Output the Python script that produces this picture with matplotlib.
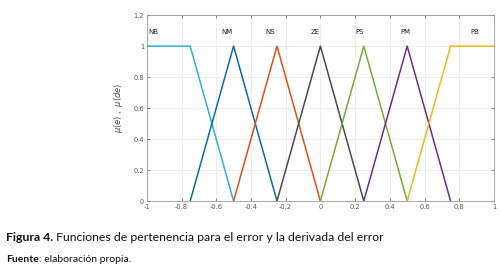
import matplotlib.pyplot as plt

# membership functions: breakpoints (x) and degrees (y)
names = ['NB', 'NM', 'NS', 'ZE', 'PS', 'PM', 'PB']
mf_x = [
    [-1.0, -0.75, -0.5],
    [-0.75, -0.5, -0.25],
    [-0.5, -0.25, 0.0],
    [-0.25, 0.0, 0.25],
    [0.0, 0.25, 0.5],
    [0.25, 0.5, 0.75],
    [0.5, 0.75, 1.0],
]
mf_y = [
    [1, 1, 0],
    [0, 1, 0],
    [0, 1, 0],
    [0, 1, 0],
    [0, 1, 0],
    [0, 1, 0],
    [0, 1, 1],
]
colors = ['#2fb0dc', '#0b6aac', '#d95319', '#4a4a4a', '#77ac30', '#6a2c91', '#f2b61a']
label_x = [-0.96, -0.54, -0.29, -0.03, 0.225, 0.49, 0.89]
label_y = 1.09

fig = plt.figure(figsize=(5.01, 2.80), dpi=100)
ax = fig.add_axes([0.293, 0.282, 0.693, 0.664])

for xs, ys, c in zip(mf_x, mf_y, colors):
    ax.plot(xs, ys, color=c, lw=1.1)

for name, lx in zip(names, label_x):
    ax.text(lx, label_y, name, fontsize=5, ha='center', va='center', color='#222222')

ax.set_xlim(-1, 1)
ax.set_ylim(0, 1.2)
ax.set_xticks([-1, -0.8, -0.6, -0.4, -0.2, 0, 0.2, 0.4, 0.6, 0.8, 1])
ax.set_xticklabels(['-1', '-0.8', '-0.6', '-0.4', '-0.2', '0', '0.2', '0.4', '0.6', '0.8', '1'])
ax.set_yticks([0, 0.2, 0.4, 0.6, 0.8, 1, 1.2])
ax.set_yticklabels(['0', '0.2', '0.4', '0.6', '0.8', '1', '1.2'])
ax.tick_params(direction='in', length=2.5, width=0.5, labelsize=4.8, colors='#555555',
               top=True, right=True, pad=2)
ax.grid(True, color='#e6e6e6', lw=0.5)
ax.set_axisbelow(True)
for s in ax.spines.values():
    s.set_color('#999999')
    s.set_linewidth(0.6)
ax.set_ylabel(r'$\mu(e)\ ,\ \mu(de)$', fontsize=6, color='#444444', labelpad=6)

# caption: bold lead followed by regular text, placed by measured width
renderer = fig.canvas.get_renderer()


def caption(x, y, parts, size):
    for txt, weight in parts:
        t = fig.text(x, y, txt, fontsize=size, fontweight=weight, family='Lato',
                     va='center', color='#111111')
        w = t.get_window_extent(renderer).width
        x += w / fig.bbox.width


caption(0.012, 0.153, [('Figura 4.', 'bold'),
                       (' Funciones de pertenencia para el error y la derivada del error', 'normal')], 8.8)
caption(0.012, 0.075, [('Fuente', 'bold'), (': elaboración propia.', 'normal')], 7.5)

fig.savefig('out.png', dpi=100)
